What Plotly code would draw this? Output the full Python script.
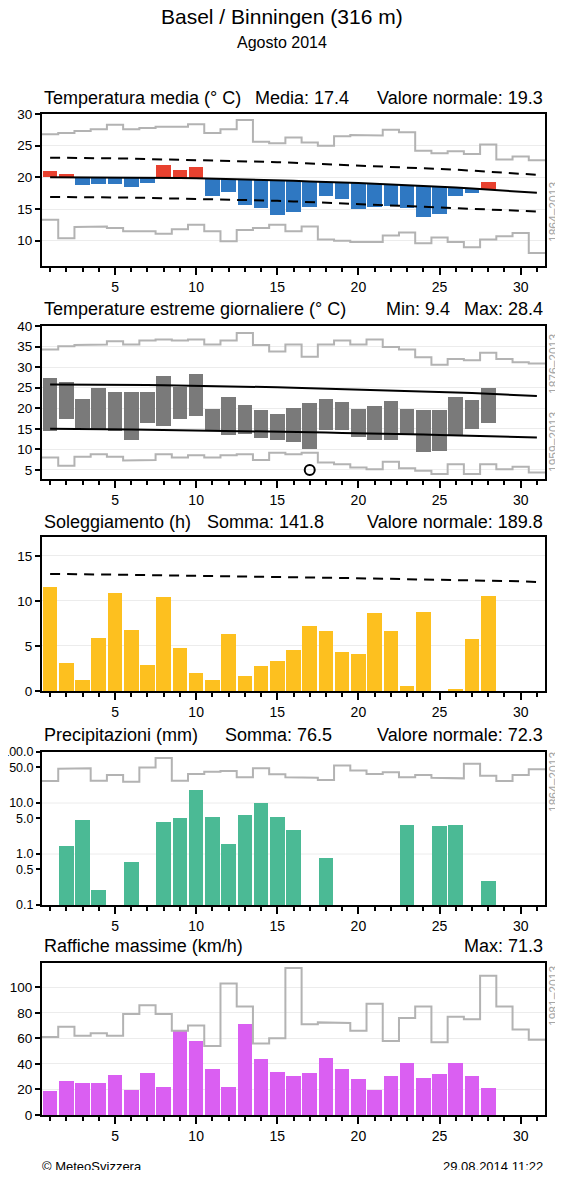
import plotly.graph_objects as go

W, H = 563, 1178
FONT = "Liberation Sans, Arial, Helvetica, sans-serif"

days = list(range(1, 32))
obs_days = list(range(1, 29))

# ---- Panel 1: Temperatura media ----
tmean = [21.0, 20.6, 18.8, 19.0, 19.0, 18.55, 19.1, 22.0, 21.1, 21.6,
         17.1, 17.7, 15.7, 15.1, 14.1, 14.6, 15.35, 17.1, 16.6, 15.0,
         15.25, 15.5, 15.15, 13.8, 14.25, 17.1, 17.6, 19.2]
tmean_norm = [20.0, 20.0, 20.0, 20.0, 20.0, 19.95, 19.95, 19.9, 19.9, 19.85,
              19.8, 19.75, 19.7, 19.6, 19.5, 19.45, 19.35, 19.3, 19.2, 19.1,
              19.0, 18.9, 18.8, 18.7, 18.55, 18.4, 18.25, 18.1, 17.95, 17.75, 17.55]
tmean_hi = [23.1, 23.1, 23.05, 23.0, 23.0, 22.95, 22.9, 22.85, 22.8, 22.75,
            22.7, 22.6, 22.55, 22.45, 22.4, 22.3, 22.2, 22.1, 22.0, 21.9,
            21.8, 21.7, 21.6, 21.45, 21.3, 21.2, 21.05, 20.9, 20.75, 20.6, 20.4]
tmean_lo = [16.9, 16.9, 16.85, 16.85, 16.8, 16.8, 16.75, 16.7, 16.7, 16.65,
            16.6, 16.5, 16.45, 16.35, 16.3, 16.2, 16.1, 16.0, 15.9, 15.8,
            15.7, 15.6, 15.5, 15.4, 15.3, 15.2, 15.05, 14.95, 14.85, 14.7, 14.6]
tmean_recmax = [26.8, 27.0, 27.3, 27.6, 28.3, 27.6, 27.8, 28.0, 28.0, 28.4,
                27.0, 27.6, 29.05, 25.6, 25.4, 26.3, 25.5, 25.0, 26.5, 26.7,
                26.6, 27.5, 27.1, 24.2, 23.8, 24.1, 23.7, 25.2, 22.8, 23.3, 22.7]
tmean_recmin = [13.3, 10.4, 12.15, 12.25, 12.0, 11.5, 11.5, 11.1, 11.8, 12.5,
                11.5, 9.9, 11.7, 12.0, 12.5, 11.5, 12.25, 10.2, 10.0, 9.8,
                9.8, 10.8, 11.3, 9.6, 10.5, 9.8, 8.95, 10.2, 10.7, 11.2, 8.05]

# ---- Panel 2: Temperature estreme ----
tmax = [27.45, 26.3, 22.2, 25.0, 24.0, 24.0, 24.0, 27.85, 25.1, 28.4,
        19.9, 22.8, 20.7, 19.5, 18.6, 20.1, 21.2, 22.2, 21.6, 19.7,
        20.5, 21.75, 19.7, 19.5, 19.5, 22.85, 22.0, 25.0]
tmin = [14.4, 17.3, 15.3, 14.7, 14.5, 12.3, 16.4, 15.7, 17.3, 18.0,
        14.4, 13.4, 13.7, 12.8, 12.2, 11.9, 10.0, 14.8, 14.7, 13.1,
        12.4, 12.2, 13.4, 9.4, 9.6, 13.4, 14.9, 16.3]
tmax_norm = [25.8, 25.8, 25.75, 25.75, 25.7, 25.7, 25.65, 25.6, 25.55, 25.5,
             25.45, 25.4, 25.3, 25.2, 25.1, 25.0, 24.9, 24.8, 24.7, 24.6,
             24.5, 24.4, 24.3, 24.15, 24.0, 23.85, 23.7, 23.55, 23.4, 23.2, 23.0]
tmin_norm = [15.0, 15.0, 14.95, 14.9, 14.9, 14.85, 14.8, 14.75, 14.7, 14.65,
             14.6, 14.55, 14.5, 14.4, 14.35, 14.3, 14.2, 14.1, 14.0, 13.95,
             13.85, 13.75, 13.7, 13.6, 13.5, 13.4, 13.3, 13.2, 13.1, 13.0, 12.9]
tmax_rec = [34.3, 35.1, 35.4, 35.5, 36.3, 35.5, 36.5, 36.7, 36.5, 36.7,
            35.5, 36.5, 38.3, 35.4, 33.8, 35.5, 32.5, 35.5, 36.5, 35.5,
            36.7, 34.9, 34.3, 32.4, 30.6, 32.0, 31.7, 33.5, 32.0, 31.2, 30.9]
tmin_rec = [8.0, 6.0, 8.2, 8.8, 8.2, 7.3, 7.4, 8.8, 8.0, 8.6,
            8.0, 8.6, 8.8, 7.4, 9.2, 8.8, 9.2, 6.8, 6.4, 5.6,
            5.2, 7.0, 5.4, 4.8, 4.0, 6.4, 4.0, 6.4, 5.2, 5.8, 4.4]
absmin_day = [17]
absmin_val = [5.0]

# ---- Panel 3: Soleggiamento ----
sun = [11.5, 3.1, 1.2, 5.9, 10.9, 6.8, 2.9, 10.4, 4.8, 2.0,
       1.2, 6.3, 1.7, 2.8, 3.3, 4.6, 7.2, 6.7, 4.35, 4.1,
       8.7, 6.7, 0.55, 8.8, 0.0, 0.25, 5.75, 10.5]
sun_max = [13.0, 13.0, 12.97, 12.95, 12.92, 12.9, 12.88, 12.85, 12.82, 12.8,
           12.77, 12.75, 12.72, 12.7, 12.67, 12.64, 12.61, 12.58, 12.55, 12.52,
           12.49, 12.46, 12.43, 12.4, 12.37, 12.34, 12.31, 12.27, 12.23, 12.18, 12.1]

# ---- Panel 4: Precipitazioni ----
prec_days = [2, 3, 4, 6, 8, 9, 10, 11, 12, 13, 14, 15, 16, 18, 23, 25, 26, 28]
prec = [1.44, 4.7, 0.2, 0.7, 4.2, 5.1, 18.0, 5.3, 1.6, 5.8,
        10.0, 5.4, 2.9, 0.82, 3.7, 3.6, 3.7, 0.3]
prec_rec = [27, 47, 48, 27.4, 35.4, 26, 49.6, 76, 27.4, 37,
            41, 42.6, 32, 48, 36.5, 32, 31.4, 28.2, 54.3, 43.2,
            37, 40, 32, 35.4, 31.4, 30.4, 58.6, 34.4, 27, 35.4, 45.9]

# ---- Panel 5: Raffiche massime ----
gust = [18.8, 26.7, 25.1, 24.9, 31.2, 19.6, 32.5, 22.3, 66.0, 57.6,
        36.1, 21.7, 71.3, 43.7, 33.8, 30.6, 32.5, 44.8, 36.4, 28.5,
        19.6, 30.6, 41.1, 29.1, 32.2, 41.1, 30.6, 21.2]
gust_rec = [61, 69, 62, 64, 62, 79, 86, 79, 66, 70,
            54, 103, 85, 56, 60, 115, 71, 72.5, 72, 66,
            87, 58, 76, 85, 57, 77, 75, 109, 85, 67, 59]

x_ticks = [5, 10, 15, 20, 25, 30]

# ---------- layout helpers ----------
L_PX, R_PX = 42, 545
panels = [  # (top_px, bottom_px)
    (114, 266),
    (326, 479),
    (537, 691),
    (752, 905),
    (963, 1115),
]


def px_x(p):
    return p / W


def px_y(p):
    return 1 - p / H


def steps(vals):
    xs, ys = [], []
    for d, v in zip(days, vals):
        xs += [d - 0.5, d + 0.5]
        ys += [v, v]
    return xs, ys


fig = go.Figure()
GREY = "#b3b3b3"

# Panel 1
xs, ys = steps(tmean_recmax)
fig.add_trace(go.Scatter(x=xs, y=ys, mode="lines", line=dict(color=GREY, width=2), xaxis="x", yaxis="y"))
xs, ys = steps(tmean_recmin)
fig.add_trace(go.Scatter(x=xs, y=ys, mode="lines", line=dict(color=GREY, width=2), xaxis="x", yaxis="y"))
dev = [v - n for v, n in zip(tmean, tmean_norm)]
cols = ["#e8412f" if d > 0 else "#2f78c2" for d in dev]
fig.add_trace(go.Bar(x=obs_days, y=dev, base=tmean_norm[:len(tmean)], marker=dict(color=cols, line=dict(width=0)),
                     width=0.9, xaxis="x", yaxis="y"))
fig.add_trace(go.Scatter(x=days, y=tmean_norm, mode="lines", line=dict(color="black", width=2), xaxis="x", yaxis="y"))
fig.add_trace(go.Scatter(x=days, y=tmean_hi, mode="lines", line=dict(color="black", width=2, dash="10px,7px"), xaxis="x", yaxis="y"))
fig.add_trace(go.Scatter(x=days, y=tmean_lo, mode="lines", line=dict(color="black", width=2, dash="10px,7px"), xaxis="x", yaxis="y"))

# Panel 2
xs, ys = steps(tmax_rec)
fig.add_trace(go.Scatter(x=xs, y=ys, mode="lines", line=dict(color=GREY, width=2), xaxis="x2", yaxis="y2"))
xs, ys = steps(tmin_rec)
fig.add_trace(go.Scatter(x=xs, y=ys, mode="lines", line=dict(color=GREY, width=2), xaxis="x2", yaxis="y2"))
fig.add_trace(go.Bar(x=obs_days, y=[a - b for a, b in zip(tmax, tmin)], base=tmin,
                     marker=dict(color="#7a7a7a", line=dict(width=0)), width=0.9, xaxis="x2", yaxis="y2"))
fig.add_trace(go.Scatter(x=days, y=tmax_norm, mode="lines", line=dict(color="black", width=2), xaxis="x2", yaxis="y2"))
fig.add_trace(go.Scatter(x=days, y=tmin_norm, mode="lines", line=dict(color="black", width=2), xaxis="x2", yaxis="y2"))
fig.add_trace(go.Scatter(x=absmin_day, y=absmin_val, mode="markers",
                         marker=dict(symbol="circle-open", size=10, color="black", line=dict(width=2)),
                         xaxis="x2", yaxis="y2"))

# Panel 3
fig.add_trace(go.Bar(x=obs_days, y=sun, marker=dict(color="#fdc01f", line=dict(width=0)), width=0.9,
                     xaxis="x3", yaxis="y3"))
fig.add_trace(go.Scatter(x=days, y=sun_max, mode="lines", line=dict(color="black", width=2, dash="10px,7px"),
                         xaxis="x3", yaxis="y3"))

# Panel 4
xs, ys = steps(prec_rec)
fig.add_trace(go.Scatter(x=xs, y=ys, mode="lines", line=dict(color=GREY, width=2), xaxis="x4", yaxis="y4"))
fig.add_trace(go.Bar(x=prec_days, y=prec, marker=dict(color="#4bba95", line=dict(width=0)), width=0.9,
                     xaxis="x4", yaxis="y4"))

# Panel 5
xs, ys = steps(gust_rec)
fig.add_trace(go.Scatter(x=xs, y=ys, mode="lines", line=dict(color=GREY, width=2), xaxis="x5", yaxis="y5"))
fig.add_trace(go.Bar(x=obs_days, y=gust, marker=dict(color="#da5ff2", line=dict(width=0)), width=0.9,
                     xaxis="x5", yaxis="y5"))

ycfg = [
    dict(range=[6, 30], tickvals=[10, 15, 20, 25, 30]),
    dict(range=[2.8, 40], tickvals=[5, 10, 15, 20, 25, 30, 35, 40]),
    dict(range=[0, 17.1], tickvals=[0, 5, 10, 15]),
    dict(type="log", range=[-1, 2], tickvals=[0.1, 0.5, 1, 5, 10, 50, 100],
         ticktext=["0.1", "0.5", "1.0", "5.0", "10.0", "50.0", "100.0"], showgrid=False,
         ticklen=4, tickfont=dict(size=12.5, family=FONT)),
    dict(range=[0, 119], tickvals=[0, 20, 40, 60, 80, 100]),
]

layout = dict(
    autosize=True, margin=dict(l=0, r=0, t=0, b=0, autoexpand=False),
    paper_bgcolor="white", plot_bgcolor="white", showlegend=False, bargap=0,
    font=dict(family=FONT, color="black", size=13),
)
for i, ((top, bot), yc) in enumerate(zip(panels, ycfg), start=1):
    sfx = "" if i == 1 else str(i)
    layout["xaxis" + sfx] = dict(
        domain=[px_x(L_PX), px_x(R_PX)], range=[0.5, 31.5], anchor="y" + sfx,
        tickmode="array", tickvals=x_ticks, ticks="outside", ticklen=7, tickwidth=2, tickcolor="black",
        minor=dict(tickmode="linear", tick0=0, dtick=1, ticks="outside", ticklen=4, tickwidth=1.5, tickcolor="black"),
        showline=True, linecolor="black", linewidth=2, mirror=True, showgrid=False, zeroline=False,
        tickfont=dict(size=14, family=FONT), fixedrange=True,
    )
    yd = dict(
        domain=[px_y(bot), px_y(top)], anchor="x" + sfx, tickmode="array",
        ticks="outside", ticklen=5, tickwidth=2, tickcolor="black",
        showline=True, linecolor="black", linewidth=2, mirror=True, showgrid=True,
        gridcolor="#ececec", gridwidth=1, zeroline=False, tickfont=dict(size=13.5, family=FONT),
        fixedrange=True,
    )
    yd.update(yc)
    layout["yaxis" + sfx] = yd

fig.update_layout(**layout)

# manual grid lines for log panel
for gv in [1, 10]:
    fig.add_shape(type="line", xref="x4 domain", yref="y4", x0=0, x1=1, y0=gv, y1=gv,
                  line=dict(color="#ececec", width=1), layer="below")

ann = []


def text(x, y, s, size=18, anchor="left", color="black", angle=0, yanchor="middle"):
    ann.append(dict(x=px_x(x), y=px_y(y), xref="paper", yref="paper", text=s, showarrow=False,
                    xanchor=anchor, yanchor=yanchor, textangle=angle,
                    font=dict(size=size, color=color, family=FONT)))


text(281.5, 17, "Basel / Binningen (316 m)", size=21, anchor="center")
text(281.5, 43, "Agosto 2014", size=16, anchor="center")

text(L_PX, 98, "Temperatura media (° C)")
text(351, 98, "Media: 17.4", anchor="right")
text(R_PX, 98, "Valore normale: 19.3", anchor="right")

text(L_PX, 309, "Temperature estreme giornaliere (° C)")
text(452, 309, "Min: 9.4", anchor="right")
text(R_PX, 309, "Max: 28.4", anchor="right")

text(L_PX, 522, "Soleggiamento (h)")
text(326, 522, "Somma: 141.8", anchor="right")
text(R_PX, 522, "Valore normale: 189.8", anchor="right")

text(L_PX, 735, "Precipitazioni (mm)")
text(334, 735, "Somma: 76.5", anchor="right")
text(R_PX, 735, "Valore normale: 72.3", anchor="right")

text(L_PX, 946, "Raffiche massime (km/h)")
text(R_PX, 946, "Max: 71.3", anchor="right")

GT = "#a6a6a6"
text(554, 212, "1864–2013", size=12, anchor="center", color=GT, angle=-90)
text(554, 364, "1876–2013", size=12, anchor="center", color=GT, angle=-90)
text(554, 442, "1959–2013", size=12, anchor="center", color=GT, angle=-90)
text(554, 782, "1864–2013", size=12, anchor="center", color=GT, angle=-90)
text(554, 996, "1981–2013", size=12, anchor="center", color=GT, angle=-90)

text(L_PX - 2, 1166, "© MeteoSvizzera", size=13)
text(R_PX, 1166, "29.08.2014 11:22", size=13, anchor="right")

fig.update_layout(annotations=ann)
# page body has an 8px default margin; cancel it with a negative margin on the plot div
fig.write_html("out.html", config={"displayModeBar": False},
               default_width=f"{W}px", default_height=f"{H}px; margin:-8px")
